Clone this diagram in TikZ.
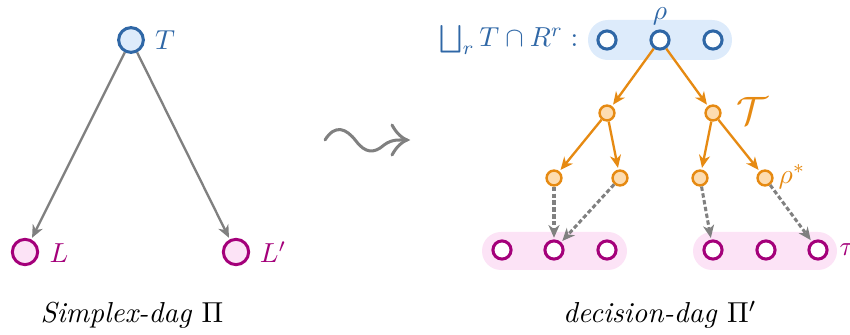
\documentclass[tikz,border=0pt]{standalone}
\usetikzlibrary{arrows.meta}
\definecolor{cblue}{HTML}{2F67A6}
\definecolor{cbluefill}{HTML}{DDEBFB}
\definecolor{cmag}{HTML}{A4007A}
\definecolor{cmagfill}{HTML}{FCE3F6}
\definecolor{corange}{HTML}{E68A12}
\definecolor{corangefill}{HTML}{FDDCB0}
\definecolor{cgray}{HTML}{808080}
\begin{document}
\begin{tikzpicture}[x=0.3636pt,y=-0.3636pt,
  bigblue/.style={circle,draw=cblue,fill=cbluefill,line width=1.1pt,minimum size=9pt,inner sep=0pt},
  bigmag/.style={circle,draw=cmag,fill=cmagfill,line width=1.1pt,minimum size=9.2pt,inner sep=0pt},
  smblue/.style={circle,draw=cblue,fill=white,line width=1.1pt,minimum size=6.6pt,inner sep=0pt},
  smmag/.style={circle,draw=cmag,fill=white,line width=1.1pt,minimum size=6.6pt,inner sep=0pt},
  orn/.style={circle,draw=corange,fill=corangefill,line width=0.9pt,minimum size=5.4pt,inner sep=0pt},
  tip/.style={-{Stealth[length=4.6pt,width=4pt,inset=1.4pt]}},
  grayedge/.style={tip,draw=cgray,line width=0.85pt,shorten >=0.6pt},
  orangeedge/.style={tip,draw=corange,line width=0.85pt,shorten >=0.6pt},
  dashedge/.style={tip,draw=cgray,line width=1.1pt,dash pattern=on 1.6pt off 0.9pt,shorten >=0.6pt},
  lbl/.style={inner sep=0pt}
]
\useasboundingbox (0,0) rectangle (850,335);

% ---- left: simplex dag ----
\node[bigblue] (T) at (131,40) {};
\node[bigmag] (L) at (25,252) {};
\node[bigmag] (Lp) at (236,252) {};
\node[lbl,text=cblue] (Tl) at (165,40) {$T$};
\node[lbl,text=cmag] (Ll) at (59,253) {$L$};
\node[lbl,text=cmag] (Lpl) at (273,252) {$L'$};
\draw[grayedge] (T) -- (L);
\draw[grayedge] (T) -- (Lp);
\node[lbl,scale=1.05] (cap1) at (132,315) {\textit{Simplex-dag} $\Pi$};

% ---- squiggle arrow ----
\coordinate (sqa) at (325,140);
\coordinate (sqb) at (407,140);
\draw[cgray,line width=1.1pt,line cap=round] (sqa) .. controls (335,124) and (346,128) .. (356,141)
  .. controls (365,153) and (374,154) .. (384,145) .. controls (392,139) and (399,140) .. (sqb);
\draw[cgray,line width=1.1pt,line cap=round] (392,125) .. controls (397,134) and (402,138) .. (sqb)
  .. controls (402,142) and (397,146) .. (392,155);

% ---- right: decision dag ----
\fill[cbluefill] [rounded corners=7.2pt] (588,20) rectangle (732,60);
\fill[cmagfill] [rounded corners=6.9pt] (482,232) rectangle (627,270);
\fill[cmagfill] [rounded corners=6.9pt] (693,232) rectangle (837,270);

\node[smblue] (b1) at (607,40) {};
\node[smblue] (rho) at (660,40) {};
\node[smblue] (b3) at (713,40) {};
\node[lbl,text=cblue] (rhol) at (660,16) {$\rho$};
\node[lbl,text=cblue] (cupl) at (509,40) {$\bigsqcup_r T\cap R^r:$};

\node[orn] (o1) at (607,113) {};
\node[orn] (o2) at (713,113) {};
\node[orn] (o11) at (554,178) {};
\node[orn] (o12) at (620,178) {};
\node[orn] (o21) at (700,178) {};
\node[orn] (o22) at (765,178) {};
\node[lbl,text=corange] (calT) at (752,111) {\Large$\mathcal{T}$};
\node[lbl,text=corange] (rhos) at (792,177) {$\rho^*$};

\node[smmag] (p1) at (502,250) {};
\node[smmag] (p2) at (554,250) {};
\node[smmag] (p3) at (607,250) {};
\node[smmag] (q1) at (713,250) {};
\node[smmag] (q2) at (766,250) {};
\node[smmag] (q3) at (818,250) {};
\node[lbl,text=cmag,anchor=west] (taul) at (839,250) {$\tau$};

\draw[orangeedge] (rho) -- (o1);
\draw[orangeedge] (rho) -- (o2);
\draw[orangeedge] (o1) -- (o11);
\draw[orangeedge] (o1) -- (o12);
\draw[orangeedge] (o2) -- (o21);
\draw[orangeedge] (o2) -- (o22);
\draw[dashedge] (o11) -- (p2);
\draw[dashedge] (o12) -- (p2);
\draw[dashedge] (o21) -- (q1);
\draw[dashedge] (o22) -- (q3);

\node[lbl,scale=1.05] (cap2) at (660,315) {\textit{decision-dag} $\Pi'$};
\end{tikzpicture}
\end{document}
